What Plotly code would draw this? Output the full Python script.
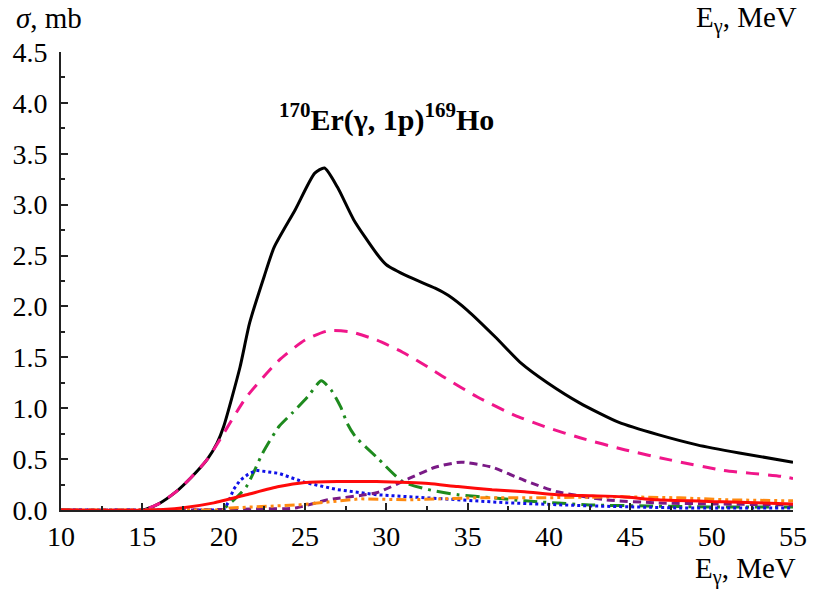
import plotly.graph_objects as go

# Photon energy grids (MeV) and partial cross sections (mb) for 170Er(g,1p)169Ho
total_E = [10, 15, 16, 17, 18, 19, 19.6, 20, 21, 21.6, 22.5, 23.1, 24.4, 25.6, 26.2, 27.0,
           28.0, 29.4, 30.0, 31.4, 33.0, 33.8, 35.0, 36.7, 38.3, 39.9, 41.9, 44.3, 46.7,
           49.1, 51.7, 55]
total_s = [0, 0, 0.06, 0.17, 0.32, 0.5, 0.66, 0.82, 1.4, 1.84, 2.3, 2.58, 2.95, 3.31, 3.36,
           3.17, 2.85, 2.52, 2.41, 2.29, 2.18, 2.11, 1.96, 1.70, 1.44, 1.25, 1.05, 0.86,
           0.74, 0.64, 0.56, 0.47]

pink_E = [10, 15, 16, 17, 18, 19, 19.8, 21.4, 23.4, 25.0, 26.4, 27.8, 29.4, 31.0, 32.6,
          33.6, 35.6, 37.9, 39.9, 41.9, 44.7, 47.5, 50.7, 54.3, 55]
pink_s = [0, 0, 0.06, 0.17, 0.32, 0.5, 0.7, 1.11, 1.47, 1.67, 1.76, 1.75, 1.67, 1.55, 1.40,
          1.30, 1.11, 0.93, 0.81, 0.71, 0.59, 0.49, 0.39, 0.33, 0.31]

green_E = [10, 19.8, 20.5, 21.4, 22.4, 23.4, 24.2, 25.2, 26.0, 26.6, 27.2, 27.6, 28.1, 29.4,
           31.0, 32.6, 34.4, 36.5, 38.5, 42.5, 46, 50, 55]
green_s = [0, 0, 0.08, 0.23, 0.56, 0.82, 0.95, 1.12, 1.27, 1.18, 1.01, 0.85, 0.72, 0.52,
           0.28, 0.20, 0.15, 0.12, 0.09, 0.05, 0.04, 0.03, 0.03]

blue_E = [10, 20, 20.3, 20.6, 21.0, 21.5, 22, 23.4, 25, 27, 29.4, 32.4, 35, 37.5, 42.5, 48, 55]
blue_s = [0, 0, 0.08, 0.2, 0.29, 0.35, 0.39, 0.36, 0.27, 0.2, 0.15, 0.12, 0.10, 0.07, 0.04,
          0.02, 0.02]

red_E = [10, 15.5, 17.4, 19.4, 21.4, 23.4, 25, 27, 29.4, 31.4, 32.6, 34.4, 36.5, 38.5, 40.5,
         42.7, 44.5, 46.7, 50.7, 55]
red_s = [0, 0, 0.02, 0.07, 0.15, 0.23, 0.27, 0.28, 0.28, 0.27, 0.26, 0.23, 0.2, 0.18, 0.15,
         0.14, 0.13, 0.10, 0.08, 0.06]

purple_E = [10, 17.5, 22, 24.4, 26.4, 29.4, 31.4, 33.0, 34.6, 36.5, 38.5, 40.5, 43.5, 46.7, 50, 55]
purple_s = [0, 0, 0.01, 0.02, 0.1, 0.17, 0.31, 0.42, 0.47, 0.42, 0.29, 0.18, 0.10, 0.07, 0.06, 0.05]

orange_E = [10, 20, 20.4, 24.6, 28.4, 31.4, 35.5, 39.5, 44.5, 48, 51, 55]
orange_s = [0, 0, 0.02, 0.05, 0.11, 0.10, 0.12, 0.12, 0.13, 0.12, 0.10, 0.09]

FONT = "Liberation Serif"

# (x, y, colour, dash pattern, line shape)
series = [
    (total_E, total_s, "#000000", "solid", "spline"),
    (pink_E, pink_s, "#f0168a", "13px,9px", "spline"),
    (green_E, green_s, "#1e8a1e", "14px,6px,3px,6px", "spline"),
    (blue_E, blue_s, "#1010e8", "3px,3px", "linear"),
    (purple_E, purple_s, "#7a1a86", "8px,5px", "spline"),
    (orange_E, orange_s, "#ff8a10", "10px,4px,3px,4px,3px,4px", "linear"),
    (red_E, red_s, "#ff0a0a", "solid", "spline"),
]

fig = go.Figure()
for xs, ys, color, dash, shape in series:
    line = dict(color=color, width=3, dash=dash, shape=shape)
    if shape == "spline":
        line["smoothing"] = 0.6
    fig.add_trace(go.Scatter(
        x=xs, y=ys, mode="lines", line=line,
        showlegend=False, hoverinfo="skip",
    ))

axis_common = dict(
    showline=True, linecolor="#222222", linewidth=2, mirror=False,
    ticks="inside", ticklen=7, tickwidth=1.5, tickcolor="#222222",
    showgrid=False, zeroline=False,
    tickfont=dict(family=FONT, size=28, color="#000000"),
)

fig.update_xaxes(range=[10, 55], dtick=5, tick0=10,
                 minor=dict(dtick=2.5, ticks="inside", ticklen=4, tickcolor="#222222"),
                 **axis_common)
fig.update_yaxes(range=[0, 4.5], dtick=0.5, tick0=0, tickformat=".1f",
                 minor=dict(dtick=0.25, ticks="inside", ticklen=4, tickcolor="#222222"),
                 ticklabelstandoff=6,
                 **axis_common)

annotations = [
    dict(text="<i>σ</i>, mb", x=-0.0645, y=1.074, xanchor="left", yanchor="middle",
         font=dict(family=FONT, size=29, color="#000000")),
    dict(text="E<sub>γ</sub>, MeV", x=1.008, y=1.07, xanchor="right", yanchor="middle",
         font=dict(family=FONT, size=29, color="#000000")),
    dict(text="E<sub>γ</sub>, MeV", x=1.007, y=-0.132, xanchor="right", yanchor="middle",
         font=dict(family=FONT, size=29, color="#000000")),
    dict(text="<b><sup>170</sup>Er(γ, 1p)<sup>169</sup>Ho</b>", x=0.445, y=0.858,
         xanchor="center", yanchor="middle",
         font=dict(family=FONT, size=30, color="#000000")),
]
for a in annotations:
    a.update(xref="paper", yref="paper", showarrow=False)
fig.update_layout(annotations=annotations)

fig.update_layout(
    width=819, height=591,
    margin=dict(l=58, r=15, t=52, b=81),
    paper_bgcolor="white", plot_bgcolor="white",
)

fig.write_html("out.html")
